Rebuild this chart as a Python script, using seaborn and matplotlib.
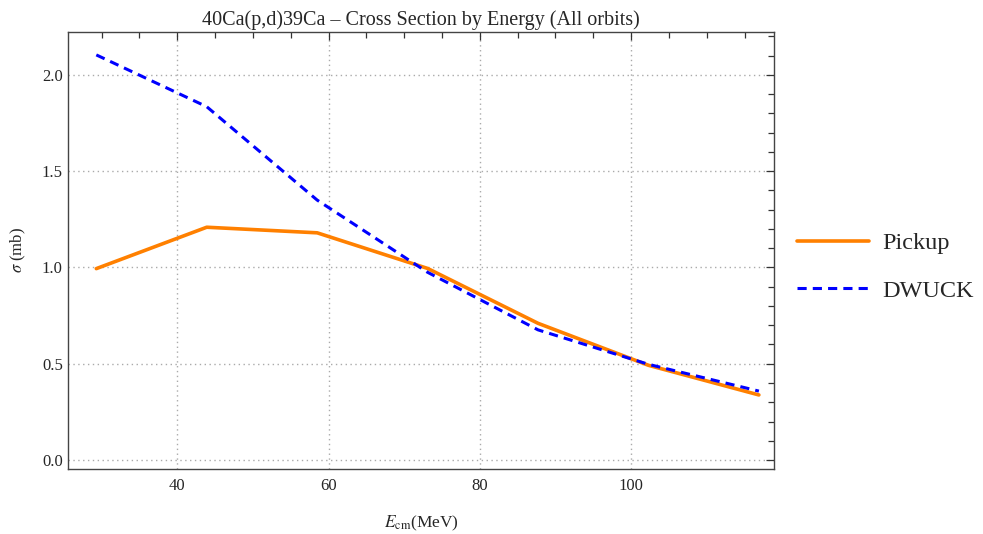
import numpy as np
import pandas as pd
import matplotlib
matplotlib.use("Agg")
import matplotlib.pyplot as plt
import seaborn as sns
from matplotlib.ticker import MultipleLocator, FixedLocator

energy = [29.3, 43.9, 58.5, 73.1, 87.7, 102.3, 116.9]
pickup = [0.994, 1.209, 1.180, 0.995, 0.710, 0.492, 0.338]
dwuck = [2.104, 1.835, 1.350, 0.975, 0.676, 0.497, 0.358]
series_names = ["Pickup", "DWUCK"]

df = pd.DataFrame({
    "E": energy * 2,
    "sigma": pickup + dwuck,
    "series": [series_names[0]] * len(energy) + [series_names[1]] * len(energy),
})

sns.set_style("white")
plt.rcParams["font.family"] = ["Liberation Serif", "DejaVu Serif"]
plt.rcParams["mathtext.fontset"] = "stix"

fig = plt.figure(figsize=(9.83, 5.34), dpi=100)
ax = fig.add_axes([0.0695, 0.1223, 0.7179, 0.8178])

sns.lineplot(data=df, x="E", y="sigma", hue="series", style="series",
             palette={"Pickup": "#FF8000", "DWUCK": "#0000FF"},
             dashes={"Pickup": "", "DWUCK": (3, 2)},
             ax=ax, legend=False, estimator=None)
lines = ax.get_lines()
lines[0].set_linewidth(2.6)
lines[1].set_linewidth(2.2)

ax.set_xlim(25.6, 118.9)
ax.set_ylim(-0.045, 2.223)
ax.xaxis.set_major_locator(FixedLocator([40, 60, 80, 100]))
ax.xaxis.set_minor_locator(MultipleLocator(5))
ax.yaxis.set_major_locator(MultipleLocator(0.5))
ax.yaxis.set_minor_locator(MultipleLocator(0.1))
ax.yaxis.set_major_formatter(matplotlib.ticker.FormatStrFormatter("%.1f"))
ax.tick_params(which="both", direction="in", top=True, right=True,
               labelsize=12, color="#333333", width=0.9)
ax.tick_params(which="major", length=6)
ax.tick_params(which="minor", length=4)
ax.tick_params(axis="x", which="major", pad=7)
ax.tick_params(axis="y", which="major", pad=4)
ax.grid(True, which="major", linestyle=(0, (1, 2.5)), color="#aaaaaa", linewidth=1.0)
for s in ax.spines.values():
    s.set_color("#444444")
    s.set_linewidth(1.0)

ax.set_title("40Ca(p,d)39Ca – Cross Section by Energy (All orbits)", fontsize=14.5, pad=5)
ax.set_xlabel(r"$E_{\rm cm}$(MeV)", fontsize=12.5, labelpad=14)
ax.set_ylabel(r"$\sigma$ (mb)", fontsize=12, labelpad=10)

handles = [plt.Line2D([], [], color="#FF8000", lw=2.6),
           plt.Line2D([], [], color="#0000FF", lw=2.2, dashes=(3, 2))]
fig.legend(handles, series_names, loc="center left", bbox_to_anchor=(0.789, 0.50),
           frameon=False, fontsize=17.5, handlelength=2.95, handletextpad=0.55,
           labelspacing=1.05)

fig.savefig("out.png", dpi=100)
